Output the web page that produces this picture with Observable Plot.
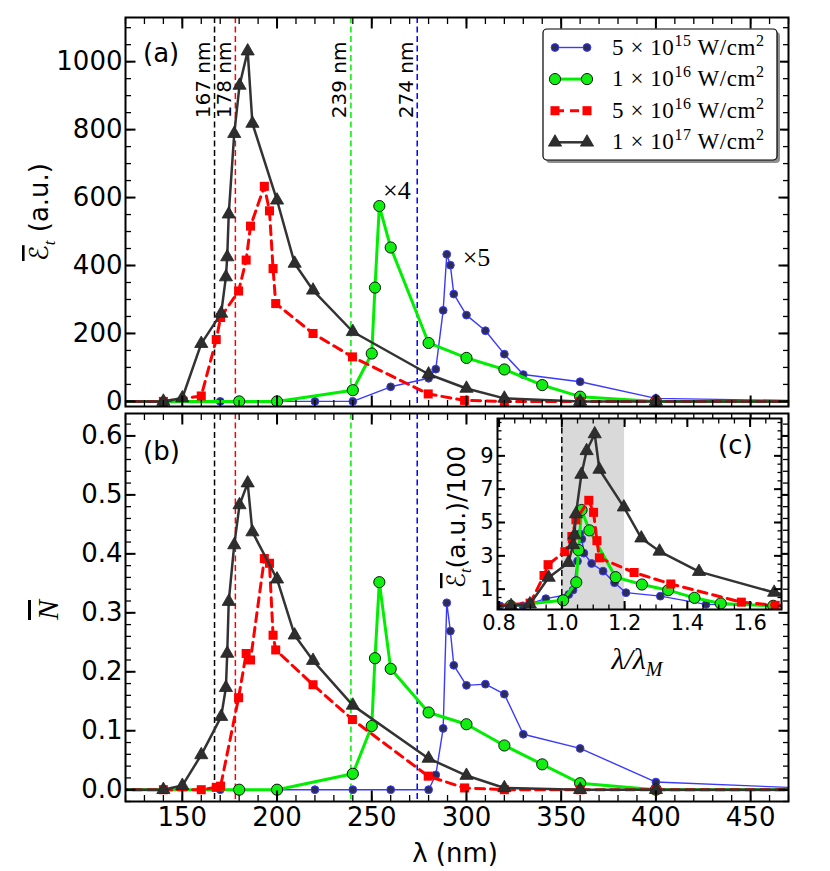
<!DOCTYPE html>
<html><head><meta charset="utf-8">
<script src="https://cdn.jsdelivr.net/npm/d3@7"></script>
<script src="https://cdn.jsdelivr.net/npm/@observablehq/plot@0.6"></script>
<style>
body{margin:0;background:#fff;}
#wrap{position:relative;width:830px;height:871px;overflow:hidden;background:#fff;}
#wrap svg{position:absolute;left:0;top:0;}
</style></head><body><div id="wrap"></div>
<script>
// ---------------- data ----------------
// 5e15 W/cm^2 (blue)  -- panel (a) values already multiplied by 5
const lamB = [100,140,170,200,220,240,260,280,283.8,287.7,289.6,291.5,293.3,300,310,320,330,360,400,500];
const EB   = [0,0,0,0,0,0,43,68,95,268,433,401,316,254,208,139,79,58,9,0];
const NB   = [0,0,0,0,0,0,0,0,0.025,0.104,0.317,0.269,0.211,0.177,0.179,0.162,0.094,0.070,0.013,0];
// 1e16 W/cm^2 (green) -- panel (a) values already multiplied by 4
const lamG = [100,180,200,240,250,251.7,254,260,280,300,320,340,360,400,500];
const EG   = [0,0,0,33,141,335,575,453,172,128,94,48,14,0,0];
const NG   = [0,0,0,0.027,0.108,0.223,0.352,0.205,0.131,0.111,0.075,0.043,0.011,0,0];
// 5e16 W/cm^2 (red)
const lamR = [100,140,160,167.9,170.2,179.7,183.7,186,193.3,196,197.9,199.3,219,239.8,279.8,299,320,360,400,500];
const ER   = [0,0,16,182,247,325,416,516,633,561,391,288,200,131,22,3,0,0,0,0];
const NR   = [0,0,0,0.004,0.006,0.156,0.231,0.22,0.392,0.384,0.262,0.237,0.178,0.119,0.023,0.003,0,0,0,0];
// 1e17 W/cm^2 (black)
const lamK = [100,140,150,160,170.5,173,173.7,174.5,177.4,180.2,184.5,187,200,209.3,219,240,280,300,320,360,400,500];
const EK   = [0,0,10,170,259,366,425,551,788,930,1031,818,592,406,327,205,80,38,9,0,0,0];
const NK   = [0,0,0.007,0.059,0.124,0.173,0.231,0.319,0.415,0.483,0.52,0.437,0.357,0.262,0.219,0.143,0.053,0.024,0.003,0,0,0];

// resonance wavelengths lambda_M (nm) for each series
const lamMB = 274, lamMG = 239, lamMR = 178, lamMK = 167;
const vlineVals   = [167, 178, 239, 274];
const vlineLabels = ["167 nm", "178 nm", "239 nm", "274 nm"];
const seriesNames = ["5", "1", "5", "1"];
const seriesExps  = ["15", "16", "16", "17"];
const scaleNotes  = [{lam: 256, E: 621, t: "×4"}, {lam: 298, E: 424, t: "×5"}];
const insetBand   = [1.0, 1.2];

const xMajor = [150, 200, 250, 300, 350, 400, 450];
const yMajorA = [0, 200, 400, 600, 800, 1000];
const yMajorB = [0.0, 0.1, 0.2, 0.3, 0.4, 0.5, 0.6];
const xMajorC = [0.8, 1.0, 1.2, 1.4, 1.6];
const yMajorC = [1, 3, 5, 7, 9];

// ---------------- styles ----------------
const W = 830, H = 871;
const STY = {
  b: {stroke: "#3a3aff", sw: 1.4, dash: undefined, symbol: "circle", r: 3.9, fill: "#2c2c58", ds: "#3a3aff", dsw: 1},
  g: {stroke: "#00ee00", sw: 3, dash: undefined, symbol: "circle", r: 5.6, fill: "#11ee11", ds: "#000", dsw: 0.9},
  r: {stroke: "#ff0000", sw: 3, dash: "9,6", symbol: "square", r: 5.1, fill: "#ff0000", ds: "none", dsw: 0},
  k: {stroke: "#333333", sw: 2.5, dash: undefined, symbol: "triangle", r: 4.9, fill: "#2e2e2e", ds: "#222", dsw: 0.8}
};
const vlineColors = ["#000000", "#ff0000", "#00ee00", "#0000ff"];

function rows(lam, E, N, lamM) {
  return lam.map((l, i) => ({lam: l, E: E[i], N: N[i], ratio: l / lamM, e100: E[i] / 100}));
}
const SERIES = [
  {k: "b", data: rows(lamB, EB, NB, lamMB)},
  {k: "g", data: rows(lamG, EG, NG, lamMG)},
  {k: "r", data: rows(lamR, ER, NR, lamMR)},
  {k: "k", data: rows(lamK, EK, NK, lamMK)}
];

function seriesMarks(x, y) {
  const m = [];
  for (const s of SERIES) {
    const st = STY[s.k];
    m.push(Plot.line(s.data, {x, y, stroke: st.stroke, strokeWidth: st.sw, strokeDasharray: st.dash, clip: true}));
    m.push(Plot.dot(s.data, {x, y, symbol: st.symbol, r: st.r, fill: st.fill, stroke: st.ds, strokeWidth: st.dsw, clip: true}));
  }
  return m;
}

function boxAxes({xMaj, xMin, yMaj, yMin, maj, min, xLab, yLab, xFmt, yFmt, fs, padX, padY}) {
  const m = [];
  for (const anchor of ["bottom", "top"]) {
    m.push(Plot.axisX(xMin, {anchor, tickSize: -min, tickFormat: () => "", label: null, strokeWidth: 1.3}));
    m.push(Plot.axisX(xMaj, {anchor, tickSize: -maj, tickFormat: () => "", label: null, strokeWidth: 2}));
  }
  for (const anchor of ["left", "right"]) {
    m.push(Plot.axisY(yMin, {anchor, tickSize: -min, tickFormat: () => "", label: null, strokeWidth: 1.3}));
    m.push(Plot.axisY(yMaj, {anchor, tickSize: -maj, tickFormat: () => "", label: null, strokeWidth: 2}));
  }
  if (xLab) m.push(Plot.axisX(xMaj, {anchor: "bottom", tickSize: 0, tickPadding: padX, tickFormat: xFmt, label: null, fontSize: fs, fill: "#000"}));
  if (yLab) m.push(Plot.axisY(yMaj, {anchor: "left", tickSize: 0, tickPadding: padY, tickFormat: yFmt, label: null, fontSize: fs, fill: "#000"}));
  return m;
}

function mk(xDomain, yDomain, mg, marks) {
  return Plot.plot({
    width: W, height: H,
    marginLeft: mg[0], marginRight: mg[1], marginTop: mg[2], marginBottom: mg[3],
    x: {domain: xDomain}, y: {domain: yDomain},
    style: {position: "absolute", left: "0px", top: "0px", background: "transparent", overflow: "visible", fontFamily: "DejaVu Sans"},
    marks
  });
}

function vrules() {
  return vlineVals.map((v, i) => Plot.ruleX([v], {x: d => d, stroke: vlineColors[i], strokeWidth: 1.5, strokeDasharray: "6,3.5"}));
}

const wrap = document.getElementById("wrap");
const xDom = [120, 470];

// panel (a)
const pa = mk(xDom, [-15, 1130], [125, 42, 17, 465], [
  ...vrules(),
  ...seriesMarks("lam", "E"),
  Plot.text(scaleNotes, {x: "lam", y: "E", text: "t", textAnchor: "start", lineAnchor: "middle", fontSize: 26, fontFamily: "Liberation Serif", fill: "#000"}),
  ...vlineVals.map((v, i) => Plot.text([v], {x: d => d, text: () => vlineLabels[i], frameAnchor: "top", dy: 24, dx: -11, rotate: -90, textAnchor: "end", lineAnchor: "middle", fontSize: 20, fill: "#000"})),
  Plot.frame({stroke: "#000", strokeWidth: 2}),
  ...boxAxes({xMaj: xMajor, xMin: d3.range(120, 471, 10), yMaj: yMajorA, yMin: d3.range(0, 1101, 50), maj: 10.5, min: 6,
    xLab: false, yLab: true, yFmt: d => String(d), fs: 26, padY: 3})
]);
wrap.appendChild(pa);

// panel (b)
const pb = mk(xDom, [-0.02, 0.638], [125, 42, 413, 70], [
  ...vrules(),
  ...seriesMarks("lam", "N"),
  Plot.frame({stroke: "#000", strokeWidth: 2}),
  ...boxAxes({xMaj: xMajor, xMin: d3.range(120, 471, 10), yMaj: yMajorB, yMin: d3.range(-0.02, 0.64, 0.02), maj: 10.5, min: 6,
    xLab: true, yLab: true, xFmt: d => String(d), yFmt: d => d.toFixed(1), fs: 26, padX: 6, padY: 3})
]);
wrap.appendChild(pb);

// inset (c)
const pc = mk([0.795, 1.70], [-0.22, 11.24], [497, 49, 418, 262], [
  Plot.frame({fill: "#fff"}),
  Plot.rect([insetBand], {x1: d => d[0], x2: d => d[1], fill: "#d9d9d9"}),
  Plot.ruleX([insetBand[0]], {x: d => d, stroke: "#000", strokeWidth: 1.5, strokeDasharray: "6,3.5"}),
  ...seriesMarks("ratio", "e100"),
  Plot.frame({stroke: "#000", strokeWidth: 2}),
  ...boxAxes({xMaj: xMajorC, xMin: d3.range(0.8, 1.71, 0.05), yMaj: yMajorC, yMin: d3.range(0, 11.01, 0.5), maj: 8, min: 4.5,
    xLab: true, yLab: true, xFmt: d => d.toFixed(1), yFmt: d => String(d), fs: 21, padX: 6, padY: 4})
]);
wrap.appendChild(pc);

// ---------------- overlay: titles, labels, legend ----------------
const ov = d3.select(wrap).append("svg").attr("width", W).attr("height", H)
  .style("position", "absolute").style("left", "0px").style("top", "0px").style("overflow", "visible");

function eLabel(x, y, fs, rest) {
  const t = ov.append("text").attr("transform", `translate(${x},${y}) rotate(-90)`)
    .attr("text-anchor", "middle").attr("font-family", "DejaVu Sans").attr("font-size", fs).attr("fill", "#000");
  t.append("tspan").attr("font-style", "italic").style("text-decoration", "overline").text("ℰ");
  t.append("tspan").attr("font-family", "Liberation Serif").attr("font-style", "italic").attr("font-size", fs * 0.65).attr("dy", fs * 0.25).text("t");
  t.append("tspan").attr("dy", -fs * 0.25).text(rest);
}
eLabel(48, 212, 26, " (a.u.)");
eLabel(465, 517, 25, "(a.u.)/100");

ov.append("text").attr("transform", "translate(58,610) rotate(-90)").attr("text-anchor", "middle")
  .attr("font-family", "Liberation Serif").attr("font-style", "italic").attr("font-size", 30)
  .style("text-decoration", "overline").text("N");

ov.append("text").attr("x", 455).attr("y", 862).attr("text-anchor", "middle")
  .attr("font-family", "DejaVu Sans").attr("font-size", 26).text("λ (nm)");

const lt = ov.append("text").attr("x", 637).attr("y", 669).attr("text-anchor", "middle")
  .attr("font-family", "Liberation Serif").attr("font-style", "italic").attr("font-size", 30);
lt.append("tspan").text("λ/λ");
lt.append("tspan").attr("font-size", 20).attr("dy", 7).text("M");

[["(a)", 143, 62], ["(b)", 143, 460], ["(c)", 718, 454]].forEach(([s, x, y]) =>
  ov.append("text").attr("x", x).attr("y", y).attr("font-family", "DejaVu Sans").attr("font-size", 26).text(s));

// legend
const L = {x: 543, y: 29, w: 234, h: 131};
ov.append("rect").attr("x", L.x + 3).attr("y", L.y + 3).attr("width", L.w).attr("height", L.h).attr("rx", 4).attr("fill", "#8f8f8f");
ov.append("rect").attr("x", L.x).attr("y", L.y).attr("width", L.w).attr("height", L.h).attr("rx", 4)
  .attr("fill", "#fff").attr("stroke", "#000").attr("stroke-width", 1.2);
const symMap = {circle: d3.symbolCircle, square: d3.symbolSquare, triangle: d3.symbolTriangle};
SERIES.forEach((s, i) => {
  const st = STY[s.k];
  const yy = 47.5 + i * 31.6;
  ov.append("line").attr("x1", 555).attr("x2", 587).attr("y1", yy).attr("y2", yy)
    .attr("stroke", st.stroke).attr("stroke-width", st.sw).attr("stroke-dasharray", st.dash || null);
  [555, 587].forEach(cx => ov.append("path").attr("transform", `translate(${cx},${yy})`)
    .attr("d", d3.symbol(symMap[st.symbol], Math.PI * st.r * st.r)())
    .attr("fill", st.fill).attr("stroke", st.ds).attr("stroke-width", st.dsw));
  const t = ov.append("text").attr("x", 612).attr("y", yy + 7).attr("font-family", "Liberation Serif").attr("font-size", 23)
    .attr("textLength", 152).attr("lengthAdjust", "spacing");
  t.append("tspan").text(`${seriesNames[i]} × 10`);
  t.append("tspan").attr("font-size", 16).attr("dy", -9).text(seriesExps[i]);
  t.append("tspan").attr("dy", 9).text(" W/cm");
  t.append("tspan").attr("font-size", 16).attr("dy", -9).text("2");
});
</script></body></html>
